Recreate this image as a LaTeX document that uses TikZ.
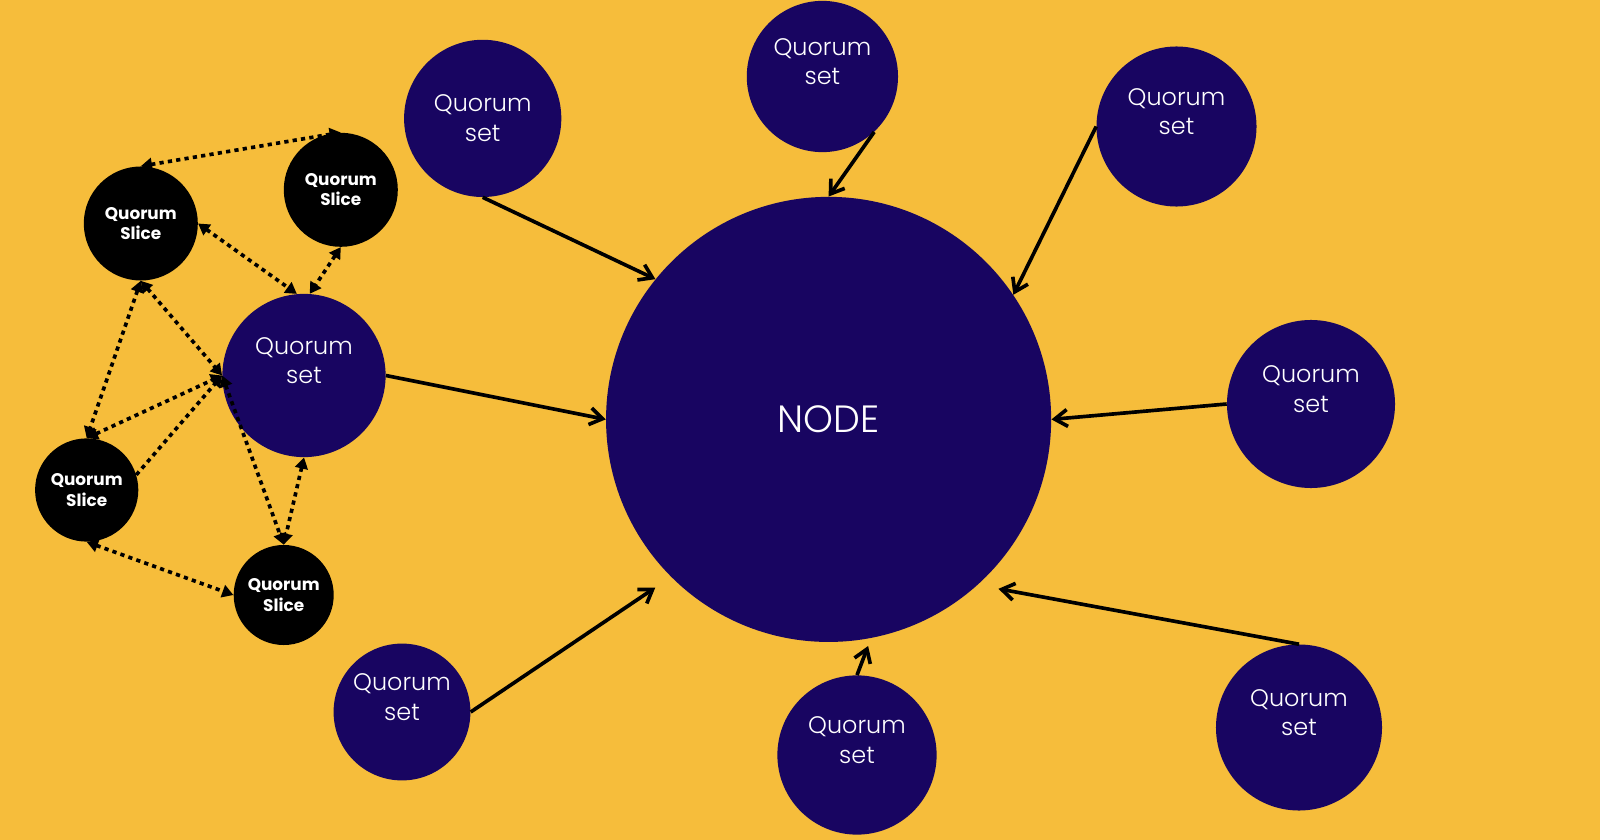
\documentclass[tikz,border=0pt]{standalone}
\usepackage{fontspec}
\setmainfont{Poppins}
\newfontfamily\qlight{Poppins}[UprightFont={* Light}]
\usetikzlibrary{arrows.meta}
\definecolor{qyellow}{HTML}{F6BD3B}
\definecolor{qnavy}{HTML}{180561}
\begin{document}
\begin{tikzpicture}[x=0.025cm,y=-0.025cm,>={Triangle[length=8pt,width=9pt]},
  qset/.style={circle,fill=qnavy,text=white,minimum size=#1,inner sep=0pt,align=center,font=\qlight\fontsize{17}{21}\selectfont},
  raised/.style={text depth=21pt},
  qslice/.style={circle,fill=black,text=white,minimum size=#1,inner sep=0pt,align=center,font=\bfseries\fontsize{12}{14.5}\selectfont},
  feed/.style={line width=2.6pt,-{Straight Barb[length=9pt,width=12pt]}},
  link/.style={line width=2.6pt,dash pattern=on 3pt off 3pt}]
  \useasboundingbox (0,0) rectangle (1600,840);
  \fill[qyellow] (0,0) rectangle (1600,840);
  \node[qset=11.125cm,font=\qlight\fontsize{27}{32}\selectfont] (node) at (828.6,419.4){NODE};
  \node[qset=3.93cm] (qs1) at (482.7,118.4){Quorum\\set};
  \node[qset=3.78cm,raised] (qs2) at (822.4,76.5){Quorum\\set};
  \node[qset=4.0cm,raised] (qs3) at (1176.5,126.5){Quorum\\set};
  \node[qset=4.2cm,raised] (qs4) at (1311,404){Quorum\\set};
  \node[qset=4.15cm,raised] (qs5) at (1299,727.5){Quorum\\set};
  \node[qset=3.98cm,raised] (qs6) at (857,755){Quorum\\set};
  \node[qset=3.42cm,raised] (qs7) at (402,712){Quorum\\set};
  \node[qset=4.08cm,raised] (qs8) at (304,375.5){Quorum\\set};
  \node[qslice=2.85cm] (sl1) at (140.8,223.5){Quorum\\Slice};
  \node[qslice=2.85cm] (sl2) at (340.8,189.8){Quorum\\Slice};
  \node[qslice=2.58cm] (sl3) at (86.7,490){Quorum\\Slice};
  \node[qslice=2.5cm] (sl4) at (283.7,595){Quorum\\Slice};
  \draw[feed] (qs1.south) -- (node.141);
  \draw[feed] (qs2.-47) -- (node.north);
  \draw[feed] (qs3.west) -- (node.34);
  \draw[feed] (qs4.west) -- (node.east);
  \draw[feed,shorten >=15pt] (qs5.north) -- (node.-48);
  \draw[feed,shorten >=6pt] (qs6.north) -- (node.-79);
  \draw[feed,shorten >=13.5pt] (qs7.east) -- (node.-135);
  \draw[feed] (qs8.east) -- (node.west);
  \draw[link,<->] (sl1.north) -- (sl2.north);
  \draw[link,<->] (sl1.east) -- (qs8.95);
  \draw[link,<->] (sl2.south) -- (qs8.86);
  \draw[link,<->] (sl1.south) -- (sl3.north);
  \draw[link,<->] (sl1.south) -- (qs8.west);
  \draw[link,<->] (sl3.north) -- (qs8.west);
  \draw[link,->] (sl3.17) -- (qs8.west);
  \draw[link,<->] (qs8.west) -- (sl4.north);
  \draw[link,<->] (qs8.south) -- (sl4.north);
  \draw[link,<->] (sl3.south) -- (sl4.west);
\end{tikzpicture}
\end{document}
